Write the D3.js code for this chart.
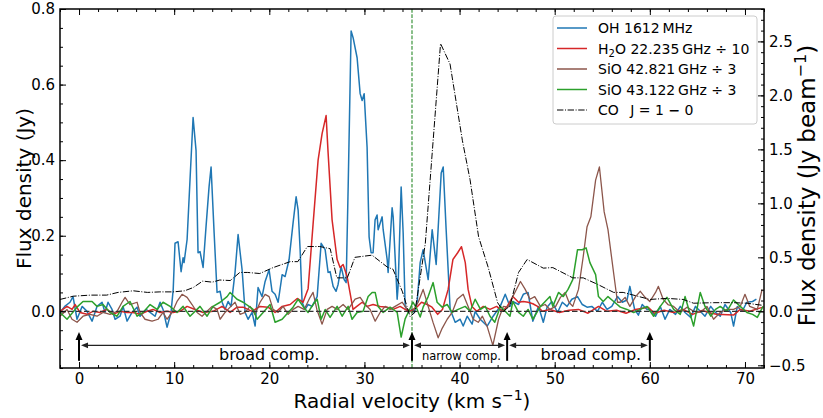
<!DOCTYPE html>
<html>
<head>
<meta charset="utf-8">
<script src="https://cdn.jsdelivr.net/npm/d3@7"></script>
<style>
body { margin: 0; background: #fff; }
svg text { font-family: "DejaVu Sans", sans-serif; fill: #000; }
</style>
</head>
<body>
<div id="chart"></div>
<script>
// spectra: [radial velocity (km/s), flux density]
// OH 1612 MHz (Jy, left axis)
const ohSpectrum = [
  [-2.0,-0.003],[-1.5,0.013],[-0.95,0.024],[-0.63,0.039],[-0.21,-0.021],[0.32,0.013],[0.84,0],[1.37,-0.026],
  [1.89,0.013],[2.42,0.024],[2.73,-0.003],[3.05,0.024],[3.47,0.005],[3.79,-0.021],[4.31,-0.013],[4.63,0.013],
  [5.05,-0.026],[5.57,-0.003],[6.1,0.011],[6.41,-0.013],[7.05,0.005],[7.47,-0.003],[7.99,-0.013],[8.52,0.024],
  [8.83,0.005],[9.25,-0.042],[9.67,-0.003],[9.9,0.058],[10.09,0.18],[10.41,0.184],[10.73,0.105],[10.94,0.142],
  [11.04,0.129],[11.36,0.19],[11.67,0.35],[11.99,0.513],[12.3,0.426],[12.51,0.155],[12.72,0.158],[13.04,0.116],
  [13.35,0.224],[13.67,0.33],[13.88,0.382],[14.2,0.208],[14.51,0.05],[14.83,0.053],[15.04,0.024],[15.35,0.005],
  [15.67,0.026],[15.98,0.013],[16.4,0.103],[16.72,0.203],[17.14,0.11],[17.46,-0.003],[17.77,-0.021],[18.19,-0.003],
  [18.51,-0.039],[18.82,0.063],[19.24,0.039],[19.56,0.079],[19.98,0.11],[20.29,0.053],[20.61,0.045],[20.93,0.024],
  [21.35,0.097],[21.66,0.092],[22.08,0.137],[22.5,0.234],[22.82,0.303],[23.03,0.268],[23.24,0.163],[23.45,0.024],
  [23.76,0.005],[24.08,0.018],[24.5,0.013],[25.03,0.039],[25.45,0.18],[25.87,0.163],[26.18,0.103],[26.39,0.105],
  [26.71,0.066],[27.02,0.053],[27.23,0.071],[27.55,0.118],[27.87,0.084],[28.08,0.076],[28.29,0.329],[28.6,0.742],
  [28.81,0.724],[29.23,0.671],[29.55,0.576],[29.76,0.558],[29.97,0.576],[30.28,0.434],[30.49,0.197],[30.7,0.155],
  [30.91,0.155],[31.12,0.242],[31.33,0.255],[31.44,0.216],[31.86,0.25],[31.97,0.216],[32.39,0.137],[32.49,0.103],
  [32.91,0.274],[33.02,0.25],[33.44,0.032],[33.54,0.066],[33.86,0.329],[34.07,0.208],[34.28,0.013],[34.6,-0.003],
  [35.02,0.005],[35.23,-0.003],[35.54,0.024],[35.86,0.129],[36.17,0.163],[36.7,0.084],[37.12,0.216],[37.54,0.124],
  [38.07,0.366],[38.28,0.382],[38.59,0.216],[39.01,0.005],[39.54,-0.029],[40.06,-0.021],[40.38,-0.039],[40.8,-0.013],
  [41.32,-0.034],[41.64,0],[42.17,-0.021],[42.9,-0.039],[43.53,-0.013],[44.27,0.013],[44.8,0.045],[45.3,0.013],
  [45.6,0.026],[46.2,0.018],[46.7,0.045],[47.2,0.05],[47.7,-0.026],[48.3,0.013],[48.8,-0.029],[49.2,0.011],
  [49.7,0.026],[50.3,-0.003],[50.8,0.024],[51.3,0.013],[51.8,0.032],[52.4,0.039],[52.9,0.018],[53.4,0.011],
  [53.9,0.013],[54.5,0],[55.0,0.024],[55.5,0.005],[56.0,0.013],[56.6,0.039],[57.1,0.024],[57.6,0.03],
  [57.9,0.066],[58.4,0.005],[58.8,-0.01],[59.2,0.018],[59.7,0.005],[60.0,0.005],[60.6,-0.013],[61.1,0.013],
  [61.6,-0.021],[62.1,0.005],[62.7,-0.008],[63.2,0.013],[63.7,-0.003],[64.3,-0.016],[64.8,0.013],[65.3,0],
  [65.8,-0.013],[66.4,0.013],[66.9,-0.003],[67.4,-0.013],[67.9,0.018],[68.5,-0.003],[68.8,-0.039],[69.2,0.013],
  [69.7,0],[70.2,0.024],[70.8,0.026],[71.2,0.032]
];

// H2O 22.235 GHz divided by 10 (Jy, left axis)
const h2oSpectrum = [
  [-2.0,0],[-1.26,0.013],[-0.73,0.005],[-0.42,0.018],[0.1,-0.003],[0.84,-0.008],[1.47,0],[2.2,-0.003],
  [2.94,0.005],[3.57,-0.008],[4.31,0],[5.05,-0.003],[5.68,-0.003],[6.41,-0.008],[7.15,0],[7.78,0.005],
  [8.52,-0.003],[9.25,0],[9.88,-0.003],[10.62,0],[11.36,0.013],[12.2,0.005],[13.04,-0.003],[14.09,0],
  [15.04,0.013],[15.88,-0.003],[16.61,0.011],[17.25,0.011],[18.19,0],[19.03,0.013],[19.87,0.011],[20.61,-0.003],
  [21.35,0.013],[22.19,0.018],[22.93,0.034],[23.55,0.024],[24.08,0.06],[24.6,0.23],[25.13,0.4],[25.55,0.47],
  [25.97,0.518],[26.18,0.42],[26.6,0.242],[27.13,0.137],[27.44,0.116],[27.76,0.124],[28.18,0.092],[28.8,0.005],
  [29.2,0.013],[29.76,0.024],[30.28,0.013],[30.91,0.018],[31.65,0.013],[32.39,0.011],[33.02,0.005],[33.75,0.013],
  [34.28,0.005],[34.8,0],[35.5,0.011],[36.0,0.024],[36.6,0.018],[37.1,0.011],[37.7,-0.008],[38.2,0.005],
  [38.8,0.058],[39.3,0.137],[39.8,0.155],[40.2,0.171],[40.6,0.129],[40.9,0.058],[41.3,0.013],[41.8,0],
  [42.5,0.013],[43.2,0.005],[43.9,0.013],[44.5,0],[45.0,0.013],[45.6,0.039],[46.2,0.024],[46.7,0.026],
  [47.2,0.024],[47.7,0.02],[48.2,0.013],[48.7,0],[49.5,0.005],[50.5,-0.003],[51.5,0.003],[52.5,0.005],
  [53.5,-0.005],[54.6,0.013],[55.5,0],[56.5,0.003],[57.5,-0.005],[58.5,0.005],[59.8,0.011],[60.5,-0.005],
  [61.5,0.003],[62.5,-0.003],[63.5,0.005],[64.5,-0.008],[65.5,0.002],[66.5,-0.005],[67.0,-0.008],[68.8,-0.01],
  [69.5,0.005],[70.5,0],[71.9,0.011]
];

// SiO 42.821 GHz divided by 3 (Jy, left axis)
const sio42Spectrum = [
  [-2.0,-0.013],[-1.26,0.005],[-0.74,-0.021],[-0.21,-0.029],[0.42,-0.013],[1.16,-0.008],[1.89,-0.013],[2.52,-0.003],
  [3.26,-0.008],[4.0,0],[4.52,0.024],[4.84,0.037],[5.36,0.018],[6.1,0.024],[6.41,-0.003],[6.94,-0.021],
  [7.68,-0.026],[8.31,-0.021],[8.83,-0.003],[9.25,-0.021],[9.78,-0.003],[10.3,0.026],[10.83,0.045],[11.36,0.037],
  [11.88,0.018],[12.41,-0.003],[12.93,-0.013],[13.46,0],[13.99,0.013],[14.51,0.005],[14.83,-0.021],[15.35,-0.003],
  [15.88,0.011],[16.4,0.024],[16.93,-0.008],[17.46,-0.003],[17.98,0.013],[18.5,-0.008],[19.03,0.024],[19.56,0.045],
  [19.98,0.039],[20.4,0.005],[20.93,-0.003],[21.45,0.013],[21.98,-0.008],[22.5,0.005],[23.03,0.013],[23.66,0.005],
  [24.29,0.037],[24.6,0.05],[25.0,0.005],[25.55,-0.034],[26.08,0.005],[26.6,0.013],[27.13,0.005],[27.76,0.018],
  [28.29,0.005],[29.02,0.032],[29.55,0.037],[30.07,0.018],[30.6,0.005],[31.13,-0.026],[31.65,-0.003],[32.18,0.013],
  [32.7,0.005],[33.23,0.013],[33.96,0.024],[34.49,0.005],[35.02,-0.003],[35.65,0.024],[36.17,0.058],[36.7,0.013],
  [37.22,-0.03],[37.75,-0.07],[38.17,-0.045],[38.7,-0.021],[39.22,-0.003],[39.75,0.032],[40.38,0.045],[40.9,0.013],
  [41.43,-0.021],[41.96,-0.029],[42.4,-0.013],[42.9,-0.04],[43.5,-0.09],[44.1,-0.021],[44.6,0.013],[45.1,0.011],
  [45.6,0.039],[46.4,0.079],[46.9,0.058],[47.4,0.032],[47.9,0.039],[48.5,0.013],[49.0,0.018],[49.5,0.005],
  [50.1,0.013],[50.6,0.037],[51.1,0.05],[51.5,0.024],[51.9,0.013],[52.5,0.058],[53.0,0.145],[53.4,0.224],
  [53.8,0.25],[54.3,0.347],[54.7,0.382],[55.2,0.263],[55.6,0.216],[56.2,0.1],[56.6,0.024],[56.9,0.024],
  [57.4,0.037],[57.9,0.013],[58.5,0.039],[59.0,0.053],[59.5,0.037],[60.0,0.026],[60.6,0.05],[60.9,0.066],
  [61.4,0.032],[61.9,0.018],[62.5,0.013],[63.2,-0.003],[63.9,0.011],[64.6,0],[65.3,-0.003],[66.0,0.013],
  [66.7,-0.021],[67.4,-0.003],[68.1,0.005],[68.8,0.005],[69.5,0.013],[70.0,0.045],[70.5,0.013],[71.3,0.005],
  [71.8,0.058]
];

// SiO 43.122 GHz divided by 3 (Jy, left axis)
const sio43Spectrum = [
  [-2.0,-0.003],[-1.26,-0.021],[-0.21,0.011],[0.42,0.026],[1.37,0.026],[1.89,0.013],[2.52,0.018],[3.26,-0.003],
  [4.0,-0.013],[4.63,0.013],[5.36,0.026],[6.1,-0.013],[6.73,-0.003],[7.47,0.018],[8.2,0.005],[8.83,0.024],
  [9.57,0.013],[10.3,-0.003],[10.94,0.013],[11.67,-0.013],[12.72,0.013],[13.46,-0.013],[14.09,0.013],[14.83,0.024],
  [15.56,0.039],[15.88,0.05],[16.61,0.032],[17.25,0.024],[17.98,0.011],[18.3,0.005],[18.72,-0.021],[19.35,-0.003],
  [20.08,0.018],[20.61,-0.029],[21.35,-0.021],[21.98,-0.003],[22.5,0.011],[23.03,0.032],[23.55,0.013],[24.08,-0.003],
  [24.6,0.018],[25.03,0.032],[25.45,-0.021],[25.87,0.005],[26.39,-0.016],[27.13,0.013],[27.66,-0.013],[28.29,0.013],
  [28.7,-0.021],[29.23,-0.003],[29.86,0],[30.39,0.039],[30.81,0.05],[31.13,0.05],[31.44,0.013],[31.97,-0.003],
  [32.7,0.011],[33.44,-0.003],[33.86,-0.068],[34.28,-0.02],[34.6,-0.003],[35.1,0.024],[35.54,0.005],[35.86,-0.015],
  [36.17,0.011],[36.7,0.039],[37.22,0.076],[37.64,0.024],[38.17,0.011],[38.7,0.018],[39.22,-0.003],[39.85,0.005],
  [40.59,0.013],[41.11,0],[41.64,0.032],[42.2,0.005],[42.7,0.013],[43.2,-0.013],[43.7,-0.029],[44.3,0.013],
  [44.8,0],[45.3,-0.013],[45.6,0.026],[46.2,-0.003],[46.7,-0.013],[47.2,0.005],[47.7,-0.021],[48.5,0.013],
  [49.0,0.026],[49.5,0.039],[49.8,0.013],[50.4,0.05],[50.9,0.039],[51.4,0.058],[51.9,0.084],[52.4,0.163],
  [52.9,0.163],[53.3,0.168],[53.7,0.129],[54.3,0.097],[54.6,0.039],[55.1,0.026],[55.6,0.039],[56.2,0.026],
  [56.9,0.011],[57.6,0.005],[58.3,-0.003],[59.0,0.005],[59.7,0.013],[60.4,-0.013],[61.1,0.013],[61.8,0.037],
  [62.5,0.005],[63.2,-0.008],[63.7,0.039],[64.6,-0.039],[65.3,0.05],[65.8,0.013],[66.4,-0.013],[66.9,0.005],
  [67.4,0.013],[68.1,0],[68.8,0.03],[69.5,0.013],[70.2,-0.003],[70.8,-0.008],[71.3,-0.016],[71.9,0.013]
];

// CO J=1-0 (Jy/beam, right axis)
const coSpectrum = [
  [-2.0,0.11],[-0.6,0.14],[1.2,0.15],[2.9,0.15],[4.1,0.175],[5.7,0.19],[7.2,0.175],[8.5,0.18],
  [9.9,0.18],[11.1,0.19],[12.0,0.22],[13.0,0.28],[14.0,0.27],[14.8,0.29],[15.9,0.285],[16.9,0.36],
  [17.7,0.36],[19.0,0.35],[20.4,0.405],[22.2,0.46],[23.0,0.46],[24.0,0.6],[25.3,0.6],[26.4,0.58],
  [27.1,0.31],[28.2,0.31],[29.0,0.5],[30.8,0.52],[32.4,0.41],[33.0,0.39],[34.0,0.18],[34.8,-0.05],
  [35.3,-0.01],[36.4,0.63],[38.0,2.48],[39.0,2.29],[40.3,1.58],[41.1,1.22],[42.0,0.69],[43.0,0.41],
  [44.0,0.08],[44.6,0.0],[45.3,0.05],[46.2,0.36],[47.1,0.48],[48.8,0.4],[49.8,0.405],[51.9,0.31],
  [53.0,0.31],[54.5,0.25],[56.2,0.175],[57.2,0.175],[60.0,0.11],[61.8,0.12],[63.5,0.11],[64.6,0.075],
  [66.7,0.08],[68.8,0.08],[70.2,0.075],[71.9,0.055]
];

const seriesNames = ['OH 1612 MHz', 'H2O 22.235 GHz ÷ 10', 'SiO 42.821 GHz ÷ 3', 'SiO 43.122 GHz ÷ 3', 'CO J = 1 − 0'];
const seriesColors = ['#1f77b4', '#d62728', '#8c564b', '#2ca02c', '#000'];

// velocity component boundaries and labels
const compEdges = [0, 35, 45, 60];
const compLabels = [
  {text: 'broad comp.', v: 20, size: 16},
  {text: 'narrow comp.', v: 40.2, size: 11.5},
  {text: 'broad comp.', v: 53.8, size: 16}
];

const xTicks = [0, 10, 20, 30, 40, 50, 60, 70];
const yLeftTicks = [0, 0.2, 0.4, 0.6, 0.8];
const yRightTicks = [-0.5, 0, 0.5, 1.0, 1.5, 2.0, 2.5];

// set the dimensions and margins of the graph
var width = 823,
    height = 418,
    margin = {top: 9, right: 59, bottom: 50, left: 60};

var svg = d3.select('#chart')
  .append('svg')
    .attr('width', width)
    .attr('height', height);

var x = d3.scaleLinear()
    .domain([-2, 72])
    .range([margin.left, width - margin.right]);
var yL = d3.scaleLinear()
    .domain([-0.15, 0.8])
    .range([height - margin.bottom, margin.top]);
var yR = d3.scaleLinear()
    .domain([-0.525, 2.8])
    .range([height - margin.bottom, margin.top]);

svg.append('clipPath')
    .attr('id', 'plotClip')
  .append('rect')
    .attr('x', margin.left)
    .attr('y', margin.top)
    .attr('width', width - margin.left - margin.right)
    .attr('height', height - margin.top - margin.bottom);

var plot = svg.append('g').attr('clip-path', 'url(#plotClip)');

// spectra on the left axis
var lineL = d3.line().x(d => x(d[0])).y(d => yL(d[1]));
var lineR = d3.line().x(d => x(d[0])).y(d => yR(d[1]));

[ohSpectrum, h2oSpectrum, sio42Spectrum, sio43Spectrum].forEach(function(s, i){
    plot.append('path')
        .datum(s)
        .attr('d', lineL)
        .attr('fill', 'none')
        .attr('stroke', seriesColors[i])
        .attr('stroke-width', i == 2 ? 1.3 : 1.5)
        .attr('stroke-linejoin', 'round');
});

// zero line and split velocity
plot.append('line')
    .attr('x1', x(-2)).attr('x2', x(72))
    .attr('y1', yL(0)).attr('y2', yL(0))
    .attr('stroke', '#333')
    .attr('stroke-width', 1.3)
    .attr('stroke-dasharray', '5.5,2.5');

plot.append('line')
    .attr('x1', x(35)).attr('x2', x(35))
    .attr('y1', yL(0.8)).attr('y2', yL(-0.15))
    .attr('stroke', '#2a8a2a')
    .attr('stroke-width', 1.1)
    .attr('stroke-dasharray', '3.7,1.6');

// CO on the twin axis
plot.append('path')
    .datum(coSpectrum)
    .attr('d', lineR)
    .attr('fill', 'none')
    .attr('stroke', '#000')
    .attr('stroke-width', 1)
    .attr('stroke-dasharray', '6.4,1.6,1,1.6');

// arrows marking the components
var ann = svg.append('g');
compEdges.forEach(function(v){
    var px = x(v), y0 = yL(-0.131), tip = yL(-0.055);
    ann.append('line')
        .attr('x1', px).attr('x2', px)
        .attr('y1', y0).attr('y2', tip + 6)
        .attr('stroke', '#000').attr('stroke-width', 2);
    ann.append('path')
        .attr('d', `M${px},${tip} L${px - 3.5},${tip + 8} L${px + 3.5},${tip + 8} Z`)
        .attr('fill', '#000');
});
d3.pairs(compEdges).forEach(function(p){
    var a = x(p[0]) + 2, b = x(p[1]) - 2, yy = yL(-0.09);
    ann.append('line')
        .attr('x1', a + 4).attr('x2', b - 4)
        .attr('y1', yy).attr('y2', yy)
        .attr('stroke', '#222').attr('stroke-width', 1.2);
    ann.append('path')
        .attr('d', `M${a},${yy} L${a + 7},${yy - 2.8} L${a + 7},${yy + 2.8} Z M${b},${yy} L${b - 7},${yy - 2.8} L${b - 7},${yy + 2.8} Z`)
        .attr('fill', '#222');
});
compLabels.forEach(function(l){
    ann.append('text')
        .attr('x', x(l.v))
        .attr('y', yL(-0.128))
        .attr('text-anchor', 'middle')
        .attr('font-size', l.size)
        .text(l.text);
});

// axes: major + minor ticks, all pointing inwards
function styleAxis(g){
    g.select('.domain').remove();
    g.selectAll('text').attr('font-size', 15).attr('font-family', '"DejaVu Sans", sans-serif').attr('fill', '#000');
    g.selectAll('line').attr('stroke', '#000');
}
var fmt = d3.format('.1f');
var bottomY = height - margin.bottom, rightX = width - margin.right;

svg.append('g').attr('transform', `translate(0,${bottomY})`)
    .call(d3.axisBottom(x).tickValues(d3.range(-2, 73, 2)).tickSizeInner(-3).tickSizeOuter(0).tickFormat(''))
    .call(styleAxis);
svg.append('g').attr('transform', `translate(0,${bottomY})`)
    .call(d3.axisBottom(x).tickValues(xTicks).tickSizeInner(-6).tickSizeOuter(0).tickPadding(5).tickFormat(d3.format('d')))
    .call(styleAxis);
svg.append('g').attr('transform', `translate(0,${margin.top})`)
    .call(d3.axisTop(x).tickValues(d3.range(-2, 73, 2)).tickSizeInner(-3).tickSizeOuter(0).tickFormat(''))
    .call(styleAxis);
svg.append('g').attr('transform', `translate(0,${margin.top})`)
    .call(d3.axisTop(x).tickValues(xTicks).tickSizeInner(-6).tickSizeOuter(0).tickFormat(''))
    .call(styleAxis);

svg.append('g').attr('transform', `translate(${margin.left},0)`)
    .call(d3.axisLeft(yL).tickValues(d3.range(-0.15, 0.801, 0.05)).tickSizeInner(-3).tickSizeOuter(0).tickFormat(''))
    .call(styleAxis);
svg.append('g').attr('transform', `translate(${margin.left},0)`)
    .call(d3.axisLeft(yL).tickValues(yLeftTicks).tickSizeInner(-6).tickSizeOuter(0).tickPadding(5).tickFormat(fmt))
    .call(styleAxis);

svg.append('g').attr('transform', `translate(${rightX},0)`)
    .call(d3.axisRight(yR).tickValues(d3.range(-0.5, 2.801, 0.1)).tickSizeInner(-3).tickSizeOuter(0).tickFormat(''))
    .call(styleAxis);
svg.append('g').attr('transform', `translate(${rightX},0)`)
    .call(d3.axisRight(yR).tickValues(yRightTicks).tickSizeInner(-6).tickSizeOuter(0).tickPadding(5).tickFormat(fmt))
    .call(styleAxis);

// frame
svg.append('rect')
    .attr('x', margin.left).attr('y', margin.top)
    .attr('width', rightX - margin.left)
    .attr('height', bottomY - margin.top)
    .attr('fill', 'none')
    .attr('stroke', '#000')
    .attr('stroke-width', 1.5);

// axis titles
var midY = (margin.top + bottomY) / 2;
svg.append('text')
    .attr('transform', `translate(31,${midY}) rotate(-90)`)
    .attr('text-anchor', 'middle')
    .attr('font-size', 20)
    .text('Flux density (Jy)');

var rt = svg.append('text')
    .attr('transform', `translate(815,${midY - 3}) rotate(-90)`)
    .attr('text-anchor', 'middle')
    .attr('font-size', 23);
rt.append('tspan').text('Flux density (Jy beam');
rt.append('tspan').attr('dy', -9).attr('font-size', 16).text('−1');
rt.append('tspan').attr('dy', 9).text(')');

var xt = svg.append('text')
    .attr('x', (margin.left + rightX) / 2)
    .attr('y', 408)
    .attr('text-anchor', 'middle')
    .attr('font-size', 20);
xt.append('tspan').text('Radial velocity (km s');
xt.append('tspan').attr('dy', -8).attr('font-size', 14).text('−1');
xt.append('tspan').attr('dy', 8).text(')');

// legend
var legend = svg.append('g');
legend.append('rect')
    .attr('x', 553).attr('y', 16)
    .attr('width', 204).attr('height', 108)
    .attr('rx', 3)
    .attr('fill', '#fff').attr('fill-opacity', 0.8)
    .attr('stroke', '#ccc');

var rowY = d3.scaleLinear().domain([0, 4]).range([28, 110]);
seriesNames.forEach(function(name, i){
    var yy = rowY(i);
    legend.append('line')
        .attr('x1', 557).attr('x2', 587)
        .attr('y1', yy).attr('y2', yy)
        .attr('stroke', seriesColors[i])
        .attr('stroke-width', i == 4 ? 1 : 1.5)
        .attr('stroke-dasharray', i == 4 ? '6.4,1.6,1,1.6' : null);
    var t = legend.append('text')
        .attr('x', 598).attr('y', yy + 5)
        .attr('font-size', 14);
    if (i == 1) {
        t.append('tspan').text('H');
        t.append('tspan').attr('font-size', 10).attr('dy', 3).text('2');
        t.append('tspan').attr('dy', -3).text('O 22.235\u2009GHz ÷ 10');
    } else if (i == 4) {
        t.append('tspan').text('CO\u2002 J = 1 ');
        t.append('tspan').attr('font-weight', 'bold').text('−');
        t.append('tspan').text(' 0');
    } else {
        t.text(name.replace(/ (MHz|GHz)/, '\u2009$1'));
    }
});
</script>
</body>
</html>
